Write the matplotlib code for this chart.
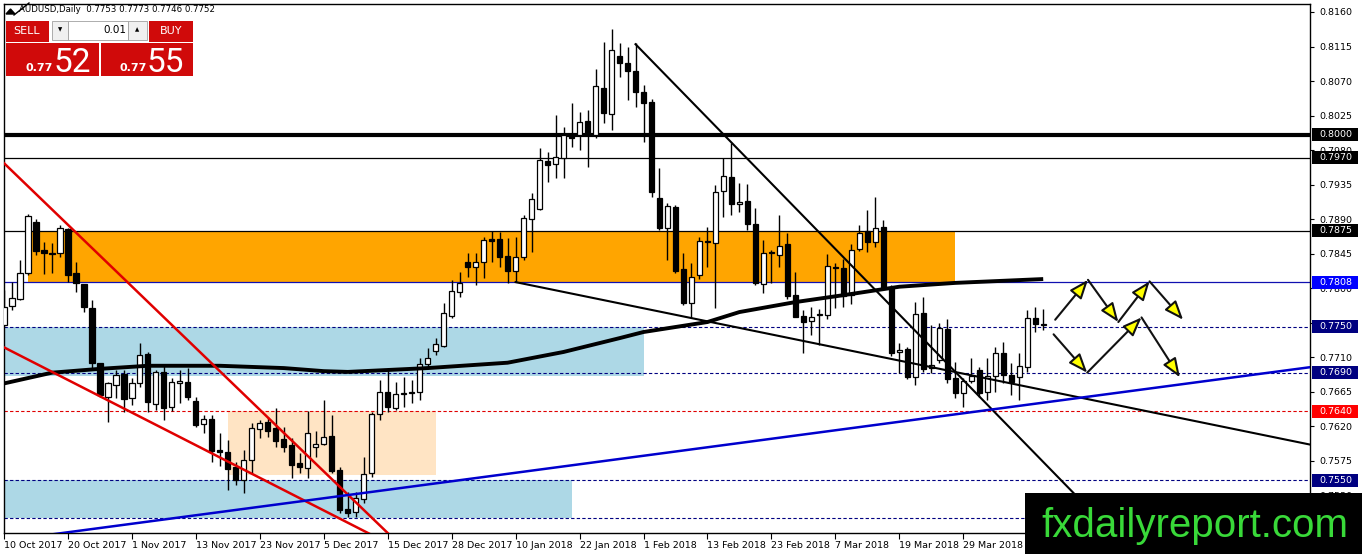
import numpy as np
import matplotlib
matplotlib.use("Agg")
import matplotlib.pyplot as plt
from matplotlib.patches import Rectangle, Polygon
from matplotlib.lines import Line2D
from matplotlib.transforms import blended_transform_factory

W, H = 1362, 554
plt.rcParams['font.family'] = ['DejaVu Sans']

# Daily AUDUSD candles, 10 Oct 2017 onwards
opens = [0.7752, 0.7777, 0.7786, 0.7820, 0.7886, 0.7850, 0.7846, 0.7846, 0.7877, 0.7820,
         0.7806, 0.7774, 0.7703, 0.7658, 0.7674, 0.7688, 0.7657, 0.7677, 0.7714, 0.7649,
         0.7691, 0.7645, 0.7677, 0.7678, 0.7653, 0.7623, 0.7630, 0.7589, 0.7587, 0.7567,
         0.7550, 0.7576, 0.7617, 0.7626, 0.7618, 0.7604, 0.7596, 0.7572, 0.7566, 0.7593,
         0.7597, 0.7608, 0.7563, 0.7512, 0.7509, 0.7525, 0.7559, 0.7636, 0.7665, 0.7644,
         0.7662, 0.7663, 0.7665, 0.7701, 0.7718, 0.7725, 0.7764, 0.7795, 0.7834, 0.7828,
         0.7834, 0.7864, 0.7864, 0.7842, 0.7822, 0.7841, 0.7890, 0.7903, 0.7966, 0.7962,
         0.7970, 0.8000, 0.8000, 0.8018, 0.8000, 0.8061, 0.8027, 0.8103, 0.8093, 0.8083,
         0.8056, 0.8043, 0.7918, 0.7879, 0.7906, 0.7825, 0.7781, 0.7817, 0.7862, 0.7859,
         0.7927, 0.7945, 0.7910, 0.7914, 0.7884, 0.7806, 0.7847, 0.7843, 0.7858, 0.7791,
         0.7764, 0.7757, 0.7765, 0.7765, 0.7828, 0.7826, 0.7791, 0.7851, 0.7875, 0.7860,
         0.7880, 0.7800, 0.7717, 0.7721, 0.7684, 0.7768, 0.7696, 0.7706, 0.7747, 0.7683,
         0.7663, 0.7679, 0.7693, 0.7665, 0.7686, 0.7716, 0.7687, 0.7684, 0.7697, 0.7761,
         0.7753]
highs = [0.7798, 0.7808, 0.7837, 0.7897, 0.7890, 0.7860, 0.7859, 0.7882, 0.7879, 0.7834,
         0.7806, 0.7785, 0.7703, 0.7678, 0.7694, 0.7694, 0.7683, 0.7729, 0.7717, 0.7693,
         0.7700, 0.7683, 0.7694, 0.7696, 0.7658, 0.7635, 0.7635, 0.7611, 0.7602, 0.7574,
         0.7589, 0.7624, 0.7628, 0.7632, 0.7644, 0.7619, 0.7605, 0.7585, 0.7640, 0.7614,
         0.7654, 0.7635, 0.7567, 0.7535, 0.7535, 0.7580, 0.7639, 0.7681, 0.7696, 0.7678,
         0.7684, 0.7681, 0.7709, 0.7722, 0.7735, 0.7781, 0.7811, 0.7821, 0.7846, 0.7846,
         0.7867, 0.7875, 0.7873, 0.7865, 0.7867, 0.7895, 0.7924, 0.7983, 0.7977, 0.8026,
         0.8010, 0.8041, 0.8030, 0.8032, 0.8086, 0.8121, 0.8138, 0.8120, 0.8114, 0.8120,
         0.8065, 0.8047, 0.7957, 0.7911, 0.7909, 0.7846, 0.7833, 0.7867, 0.7880, 0.7935,
         0.7970, 0.7989, 0.7937, 0.7936, 0.7905, 0.7863, 0.7850, 0.7895, 0.7872, 0.7821,
         0.7772, 0.7776, 0.7773, 0.7845, 0.7833, 0.7838, 0.7858, 0.7882, 0.7902, 0.7919,
         0.7889, 0.7804, 0.7729, 0.7723, 0.7782, 0.7789, 0.7752, 0.7755, 0.7760, 0.7704,
         0.7683, 0.7709, 0.7697, 0.7709, 0.7723, 0.7730, 0.7703, 0.7716, 0.7772, 0.7776,
         0.7773]
lows = [0.7751, 0.7772, 0.7785, 0.7817, 0.7843, 0.7819, 0.7820, 0.7841, 0.7808, 0.7795,
        0.7769, 0.7696, 0.7658, 0.7626, 0.7657, 0.7639, 0.7648, 0.7671, 0.7639, 0.7641,
        0.7628, 0.7640, 0.7651, 0.7654, 0.7619, 0.7611, 0.7574, 0.7568, 0.7537, 0.7544,
        0.7533, 0.7559, 0.7605, 0.7606, 0.7593, 0.7587, 0.7553, 0.7559, 0.7553, 0.7580,
        0.7596, 0.7559, 0.7507, 0.7502, 0.7502, 0.7520, 0.7554, 0.7628, 0.7639, 0.7641,
        0.7645, 0.7651, 0.7654, 0.7697, 0.7713, 0.7723, 0.7761, 0.7789, 0.7815, 0.7804,
        0.7813, 0.7834, 0.7828, 0.7807, 0.7808, 0.7837, 0.7847, 0.7902, 0.7938, 0.7944,
        0.7944, 0.7984, 0.7980, 0.7958, 0.7996, 0.8015, 0.8006, 0.8075, 0.8045, 0.8036,
        0.7991, 0.7919, 0.7876, 0.7837, 0.7820, 0.7778, 0.7761, 0.7812, 0.7828, 0.7774,
        0.7893, 0.7896, 0.7899, 0.7876, 0.7804, 0.7794, 0.7807, 0.7828, 0.7786, 0.7762,
        0.7716, 0.7739, 0.7726, 0.7760, 0.7774, 0.7776, 0.7780, 0.7849, 0.7847, 0.7854,
        0.7799, 0.7712, 0.7690, 0.7682, 0.7674, 0.7691, 0.7690, 0.7703, 0.7677, 0.7657,
        0.7645, 0.7677, 0.7658, 0.7654, 0.7665, 0.7677, 0.7661, 0.7654, 0.7691, 0.7743,
        0.7746]
closes = [0.7776, 0.7787, 0.7820, 0.7894, 0.7849, 0.7846, 0.7845, 0.7879, 0.7817, 0.7807,
          0.7776, 0.7703, 0.7661, 0.7677, 0.7687, 0.7656, 0.7677, 0.7713, 0.7652, 0.7691,
          0.7644, 0.7678, 0.7679, 0.7658, 0.7622, 0.7630, 0.7588, 0.7587, 0.7565, 0.7550,
          0.7576, 0.7618, 0.7624, 0.7614, 0.7601, 0.7593, 0.7570, 0.7567, 0.7611, 0.7597,
          0.7606, 0.7562, 0.7511, 0.7507, 0.7527, 0.7558, 0.7636, 0.7665, 0.7645, 0.7662,
          0.7663, 0.7665, 0.7701, 0.7709, 0.7727, 0.7768, 0.7796, 0.7807, 0.7828, 0.7834,
          0.7863, 0.7862, 0.7841, 0.7822, 0.7841, 0.7891, 0.7916, 0.7967, 0.7961, 0.7971,
          0.8000, 0.7996, 0.8017, 0.8002, 0.8063, 0.8028, 0.8110, 0.8093, 0.8083, 0.8056,
          0.8041, 0.7925, 0.7879, 0.7907, 0.7822, 0.7781, 0.7815, 0.7862, 0.7860, 0.7925,
          0.7946, 0.7910, 0.7912, 0.7884, 0.7807, 0.7846, 0.7846, 0.7855, 0.7790, 0.7762,
          0.7756, 0.7762, 0.7766, 0.7829, 0.7826, 0.7790, 0.7850, 0.7872, 0.7860, 0.7879,
          0.7800, 0.7716, 0.7720, 0.7684, 0.7766, 0.7695, 0.7700, 0.7748, 0.7682, 0.7663,
          0.7679, 0.7686, 0.7663, 0.7686, 0.7716, 0.7687, 0.7678, 0.7699, 0.7761, 0.7753,
          0.7752]

# moving average (thick black curve), sampled at bar positions
ma_bars = [0, 6, 12, 18, 27, 35, 40, 43, 47, 53, 63, 70, 77, 80, 88, 92, 99, 105, 112, 119, 130]
ma_vals = [0.7676, 0.7690, 0.7695, 0.7699, 0.7699, 0.7696, 0.7692, 0.7691, 0.7693, 0.7696,
           0.7703, 0.7717, 0.7735, 0.7743, 0.7756, 0.7769, 0.7782, 0.7791, 0.7802, 0.7807, 0.7812]

tick_bars = list(range(0, 121, 8))
tick_labels = ["10 Oct 2017", "20 Oct 2017", "1 Nov 2017", "13 Nov 2017", "23 Nov 2017",
               "5 Dec 2017", "15 Dec 2017", "28 Dec 2017", "10 Jan 2018", "22 Jan 2018",
               "1 Feb 2018", "13 Feb 2018", "23 Feb 2018", "7 Mar 2018", "19 Mar 2018",
               "29 Mar 2018"]
price_ticks = [0.8160, 0.8115, 0.8070, 0.8025, 0.7980, 0.7935, 0.7890, 0.7845, 0.7800,
               0.7755, 0.7710, 0.7665, 0.7620, 0.7575, 0.7530]
hidden_ticks = [0.7755]   # fully covered by the 0.7750 label

# labelled price levels: (price, line colour, line style, width, label background)
levels = [(0.8000, 'black', '-', 3.0, 'black'),
          (0.7970, 'black', '-', 0.9, 'black'),
          (0.7875, 'black', '-', 0.9, 'black'),
          (0.7808, '#1010B0', '-', 0.9, '#0000FF'),
          (0.7750, '#000080', (0, (3, 2)), 0.8, '#000080'),
          (0.7690, '#000080', (0, (3, 2)), 0.8, '#000080'),
          (0.7640, '#E00000', (0, (3, 2)), 0.8, '#FF0000'),
          (0.7550, '#000080', (0, (3, 2)), 0.8, '#000080'),
          (0.7500, '#000080', (0, (3, 2)), 0.8, None)]

# zones: (bar start, bar end, price low, price high, colour)
zones = [(3, 119, 0.7808, 0.7875, '#FFA500'),
         (-1, 80, 0.7686, 0.7750, '#ADD8E6'),
         (-1, 71, 0.7500, 0.7550, '#ADD8E6'),
         (28, 54, 0.7557, 0.7640, '#FFE4C4')]

# trend lines: (bar0, price0, bar1, price1, colour, width)
trends = [(79, 0.8118, 140, 0.7467, 'black', 1.5),
          (64, 0.7808, 164, 0.7595, 'black', 1.5),
          (0, 0.7963, 50, 0.7461, '#E00000', 1.8),
          (0, 0.7723, 48, 0.7468, '#E00000', 1.8),
          (0, 0.7471, 164, 0.7698, '#0000CD', 1.8)]

# projected paths (yellow arrows)
path_up_bars = [131.5, 135.6, 139.4, 143.3, 147.5]
path_up_vals = [0.7759, 0.7811, 0.7756, 0.7809, 0.7759]
path_dn_bars = [131.3, 135.5, 142.3, 147.1]
path_dn_vals = [0.7740, 0.7690, 0.7762, 0.7684]

o = np.array(opens); h = np.array(highs); l = np.array(lows); c = np.array(closes)
bars = np.arange(len(o))

fig = plt.figure(figsize=(W / 100, H / 100), dpi=100)
fig.patch.set_facecolor('white')
ax = fig.add_axes([4 / W, (H - 533) / H, 1306 / W, 529 / H])
ax.set_xlim(0.125, 163.375)
ax.set_ylim(0.74811, 0.81704)

for x0, x1, y0, y1, col in zones:
    ax.add_patch(Rectangle((x0, y0), x1 - x0, y1 - y0, facecolor=col, edgecolor='none', zorder=1))

for p, col, ls, lw, bg in levels:
    ax.axhline(p, color=col, ls=ls, lw=lw, zorder=2)

# candles
up = c >= o
body_lo = np.minimum(o, c)
body_h = np.maximum(np.abs(c - o), 0.00005)
ax.vlines(bars, l, h, color='black', lw=1.0, zorder=4)
ax.bar(bars[up], body_h[up], bottom=body_lo[up], width=0.65, color='white',
       edgecolor='black', lw=0.9, zorder=5)
ax.bar(bars[~up], body_h[~up], bottom=body_lo[~up], width=0.65, color='black',
       edgecolor='black', lw=0.9, zorder=5)

ax.plot(ma_bars, ma_vals, color='black', lw=2.8, zorder=6, solid_capstyle='butt')

for b0, p0, b1, p1, col, lw in trends:
    ax.plot([b0, b1], [p0, p1], color=col, lw=lw, zorder=6)

for pb, pv in [(path_up_bars, path_up_vals), (path_dn_bars, path_dn_vals)]:
    for k in range(len(pb) - 1):
        ax.annotate('', xy=(pb[k + 1], pv[k + 1]), xytext=(pb[k], pv[k]),
                    arrowprops=dict(arrowstyle='-|>,head_length=1.15,head_width=0.45',
                                    facecolor='#FFFF00', edgecolor='#111111', lw=1.5,
                                    shrinkA=0, shrinkB=0), zorder=7)

# axes styling
for sp in ax.spines.values():
    sp.set_color('black')
    sp.set_linewidth(1.0)
ax.yaxis.tick_right()
ax.set_yticks(price_ticks, ["" if p in hidden_ticks else f"{p:.4f}" for p in price_ticks])
ax.tick_params(axis='y', length=3, pad=4, labelsize=6.8, color='black')
ax.set_xticks(tick_bars, tick_labels, ha='left')
ax.tick_params(axis='x', length=4, pad=1.5, labelsize=6.8, color='black')

# boxed level labels on the price scale
tr = blended_transform_factory(ax.transAxes, ax.transData)
y0, y1 = ax.get_ylim()
half = 6.5 * (y1 - y0) / 529
for p, col, ls, lw, bg in levels:
    if bg is None:
        continue
    ax.add_patch(Rectangle((1.0015, p - half), 0.0355, 2 * half, transform=tr,
                           facecolor=bg, edgecolor='none', clip_on=False, zorder=9))
    ax.text(1.0075, p, f"{p:.4f}", transform=tr, color='white', fontsize=6.8,
            va='center', ha='left', clip_on=False, zorder=10)


def frect(x0, y0, x1, y1, **kw):
    r = Rectangle((x0 / W, 1 - y1 / H), (x1 - x0) / W, (y1 - y0) / H,
                  transform=fig.transFigure, **kw)
    fig.add_artist(r)


def ftext(x, y, s, **kw):
    fig.text(x / W, 1 - y / H, s, **kw)


# header
ftext(19, 10, f"AUDUSD,Daily  {o[-1]:.4f} {h[-1]:.4f} {l[-1]:.4f} {c[-1]:.4f}",
      fontsize=6.2, va='center', ha='left', color='black')
fig.add_artist(Polygon([(6 / W, 1 - 14 / H), (15 / W, 1 - 14 / H), (10.5 / W, 1 - 9 / H)],
                       closed=True, transform=fig.transFigure, color='black'))
fig.add_artist(Line2D([14 / W, 29 / W], [1 - 15 / H, 1 - 3 / H], transform=fig.transFigure,
                      color='black', lw=1.0))

red = '#D00A0A'
frect(6, 21, 49, 42, facecolor=red, edgecolor='none', zorder=5)
frect(149, 21, 193, 42, facecolor=red, edgecolor='none', zorder=5)
frect(6, 43, 99, 76, facecolor=red, edgecolor='none', zorder=5)
frect(101, 43, 193, 76, facecolor=red, edgecolor='none', zorder=5)
frect(52, 21, 68, 40, facecolor='#F0F0F0', edgecolor='#A0A0A0', lw=0.6, zorder=5)
frect(68, 21, 128, 40, facecolor='white', edgecolor='#A0A0A0', lw=0.6, zorder=5)
frect(128, 21, 147, 40, facecolor='#F0F0F0', edgecolor='#A0A0A0', lw=0.6, zorder=5)
ftext(27, 31, "SELL", color='white', fontsize=8, ha='center', va='center', zorder=6)
ftext(171, 31, "BUY", color='white', fontsize=8, ha='center', va='center', zorder=6)
ftext(60, 30, "\u25BC", color='black', fontsize=4, ha='center', va='center', zorder=6)
ftext(137.5, 30, "\u25B2", color='black', fontsize=4, ha='center', va='center', zorder=6)
ftext(126, 30, "0.01", color='black', fontsize=7.5, ha='right', va='center', zorder=6)
ftext(25, 71, "0.77", color='white', fontsize=8, fontweight='bold', ha='left',
      va='baseline', zorder=6)
ftext(54, 72, "52", color='white', fontsize=24, ha='left', va='baseline', zorder=6,
      family='Roboto')
ftext(120, 71, "0.77", color='white', fontsize=8, fontweight='bold', ha='left',
      va='baseline', zorder=6)
ftext(147, 72, "55", color='white', fontsize=24, ha='left', va='baseline', zorder=6,
      family='Roboto')

# watermark box
frect(1025, 493, 1362, 554, facecolor='black', edgecolor='none', zorder=8)
ftext(1195, 537, "fxdailyreport.com", color='#39D939', fontsize=29, ha='center',
      va='baseline', family='Liberation Sans', zorder=9)

fig.savefig('out.png', dpi=100, facecolor='white')
